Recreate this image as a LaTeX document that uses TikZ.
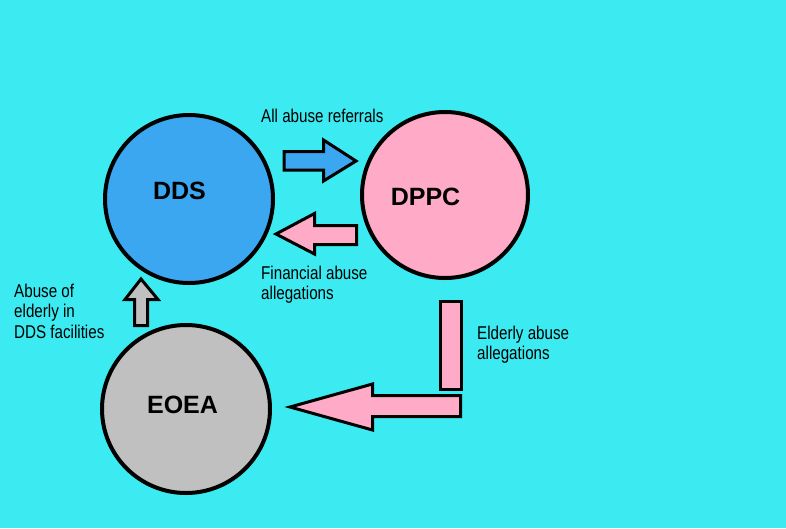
\documentclass[tikz,border=0pt]{standalone}
\usepackage{fontspec}
\setmainfont{Liberation Sans}
\newfontfamily\narrowfont[FakeStretch=0.82]{Liberation Sans}
\definecolor{bgcyan}{RGB}{59,235,241}
\definecolor{ddsblue}{RGB}{59,167,240}
\definecolor{pinkc}{RGB}{255,170,199}
\definecolor{grayc}{RGB}{192,192,192}
\begin{document}
\begin{tikzpicture}[x=1pt,y=-1pt,
  agency/.style={circle,draw=black,line width=4pt,inner sep=0pt},
  agname/.style={inner sep=0pt,font=\bfseries\fontsize{25}{29}\selectfont},
  blockarrow/.style={draw=black,line width=3pt,line join=miter},
  smalllabel/.style={inner sep=0pt,anchor=base west,align=left,font=\narrowfont\fontsize{18.5}{20.5}\selectfont}]
\fill[bgcyan] (0,0) rectangle (786,528);
\useasboundingbox (0,0) rectangle (786,528);
% circles
\node[agency,fill=ddsblue,minimum size=168pt] (dds) at (189,199) {};
\node[agency,fill=pinkc,minimum size=166pt] (dppc) at (445,195) {};
\node[agency,fill=grayc,minimum size=168pt] (eoea) at (186,409) {};
\node[agname] (ddst) at (179.5,191) {DDS};
\node[agname] (dppct) at (425.5,197) {DPPC};
\node[agname] (eoeat) at (182.5,404.5) {EOEA};
% blue arrow
\draw[blockarrow,fill=ddsblue] (284,151.5) -- (323.5,151.5) -- (323.5,140) -- (356,161) -- (323.5,181) -- (323.5,170) -- (284,170) -- cycle;
% pink left arrow
\draw[blockarrow,fill=pinkc] (276,234) -- (314.5,213.5) -- (314.5,225.5) -- (356.5,225.5) -- (356.5,244.5) -- (314.5,244.5) -- (314.5,254) -- cycle;
% L-shaped arrow
\draw[blockarrow,fill=pinkc] (440.5,301.5) rectangle (461.5,389.5);
\draw[blockarrow,fill=pinkc] (290,407) -- (372.5,384) -- (372.5,395.5) -- (460.5,395.5) -- (460.5,416.5) -- (372.5,416.5) -- (372.5,430) -- cycle;
% gray up arrow
\draw[blockarrow,fill=grayc] (141,279) -- (158,299.5) -- (147.5,299.5) -- (147.5,325.5) -- (134.5,325.5) -- (134.5,299.5) -- (125,299.5) -- cycle;
% labels (base anchor = baseline of last line)
\node[smalllabel] (l1) at (261,122) {All abuse referrals};
\node[smalllabel] (l2) at (261,299.5) {Financial abuse\\allegations};
\node[smalllabel] (l3) at (477,359.5) {Elderly abuse\\allegations};
\node[smalllabel] (l4) at (14,338) {Abuse of\\elderly in\\DDS facilities};
\end{tikzpicture}
\end{document}
